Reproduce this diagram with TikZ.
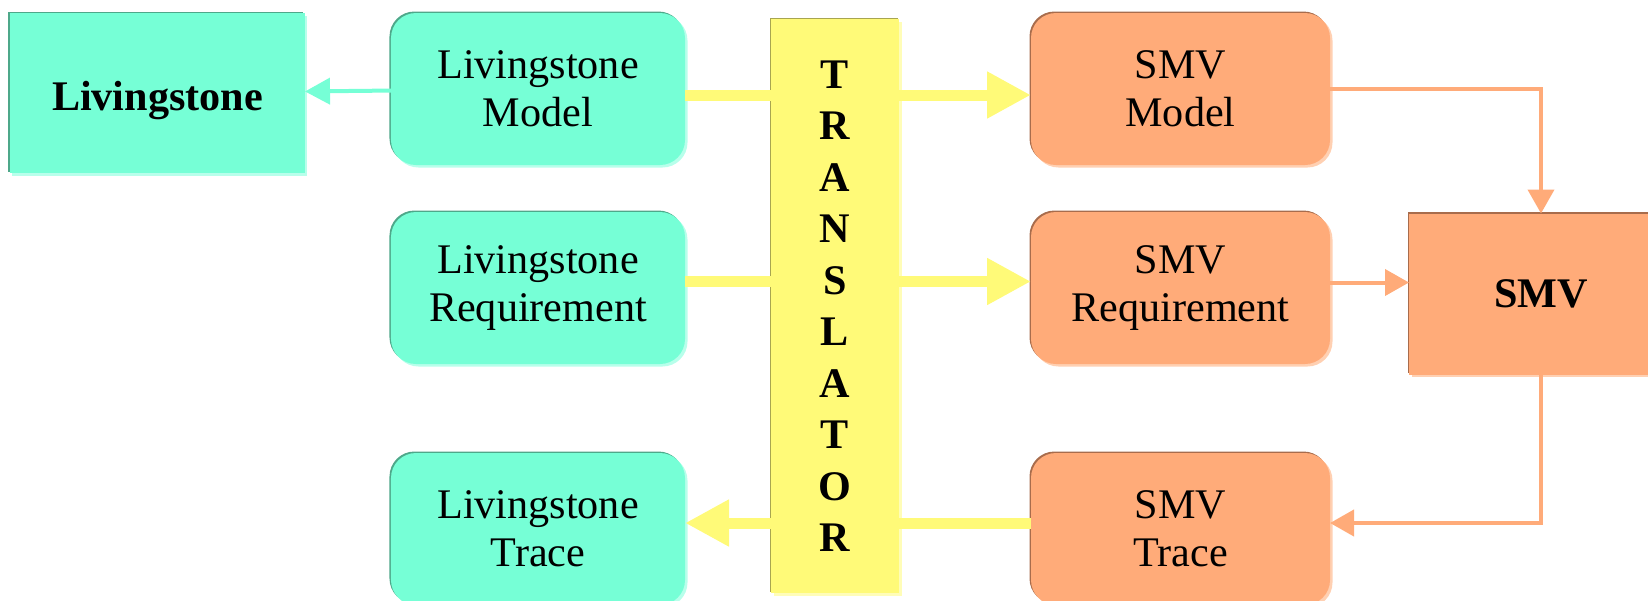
\documentclass[tikz,border=0pt]{standalone}
\usepackage{fontspec}
\setmainfont{Liberation Serif}
\usetikzlibrary{calc}
\usetikzlibrary{positioning}
\usetikzlibrary{arrows.meta}
\usetikzlibrary{shadows}

\definecolor{livfill}{HTML}{76FFD6}
\definecolor{livdark}{HTML}{4EA88A}
\definecolor{livlight}{HTML}{B8FFEB}
\definecolor{smvfill}{HTML}{FFAB79}
\definecolor{smvdark}{HTML}{A86C4C}
\definecolor{smvlight}{HTML}{FFD0B2}
\definecolor{trfill}{HTML}{FFFA78}
\definecolor{trdark}{HTML}{A8A550}
\definecolor{trlight}{HTML}{FFFDB8}

\begin{document}
\begin{tikzpicture}
[
% 文字の設定
every node/.style={inner sep=0, outer sep=0, align=center,
font=\fontsize{24}{27.3}\selectfont},
% 影（左上は濃く、右下は薄く）
bevel/.style 2 args={general shadow={fill=#1, shadow xshift=-0.03cm, shadow yshift=0.03cm},
general shadow={fill=#2, shadow xshift=0.05cm, shadow yshift=-0.05cm}},
% Livingstone 側のブロック
livblock/.style={rectangle, rounded corners=0.5cm, fill=livfill, bevel={livdark}{livlight},
minimum width=5.88cm, minimum height=3.04cm},
livbig/.style={rectangle, fill=livfill, bevel={livdark}{livlight},
minimum width=5.9cm, minimum height=3.2cm, text height=0.86cm, text depth=0.18cm},
% SMV 側のブロック
smvblock/.style={rectangle, rounded corners=0.5cm, fill=smvfill, bevel={smvdark}{smvlight},
minimum width=5.98cm, minimum height=3.04cm},
smvbig/.style={rectangle, fill=smvfill, bevel={smvdark}{smvlight},
minimum width=5.28cm, minimum height=3.22cm},
% 変換器
bar/.style={rectangle, fill=trfill, bevel={trdark}{trlight},
minimum width=2.56cm, minimum height=11.48cm, font=\fontsize{24}{29.3}\selectfont\bfseries},
% 矢印の設定
livarrow/.style={-{Triangle[length=0.5cm, width=0.52cm]}, line width=0.08cm, livfill},
smvarrow/.style={-{Triangle[length=0.48cm, width=0.52cm]}, line width=0.08cm, smvfill},
trline/.style={line width=0.22cm, trfill},
trarrow/.style={trline, -{Triangle[length=0.88cm, width=0.88cm]}}
]
\useasboundingbox (-10.76,1.78) rectangle (22.2,-10.22);

% ブロックの配置
\node [livblock] (lmodel) {Livingstone\\Model};
\node [livblock, below=0.94 of lmodel] (lreq) {Livingstone\\Requirement};
\node [livblock, below=1.78 of lreq] (ltrace) {Livingstone\\Trace};
\node [livbig, left=1.72 of lmodel, yshift=-0.08cm] (liv) {\bfseries Livingstone};
\node [bar, anchor=north west] at ($(lmodel.north east)+(1.72,-0.12)$) (trans)
{T\\R\\A\\N\\S\\L\\A\\T\\O\\R};
\coordinate (r1) at (trans.east |- lmodel);
\node [smvblock, right=2.64 of r1] (smodel) {SMV\\Model};
\node [smvblock, below=0.94 of smodel] (sreq) {SMV\\Requirement};
\node [smvblock, below=1.78 of sreq] (strace) {SMV\\Trace};
\node [smvbig, right=1.58 of sreq, yshift=-0.12cm] (smv) {\bfseries SMV};

% 矢印の高さ
\coordinate (y1) at ([yshift=-0.12cm]lmodel.east);
\coordinate (y2) at ([yshift=0.13cm]lreq.east);
\coordinate (y3) at ([yshift=0.12cm]ltrace.east);
\coordinate (o2) at ([yshift=0.11cm]sreq.east);
\coordinate (o3) at ([yshift=0.12cm]strace.east);

% ブロックの接続
\draw [livarrow] (lmodel) -- (liv);
\draw [trline] (y1) -- (y1 -| trans.west);
\draw [trarrow] (y1 -| trans.east) -- (y1 -| smodel.west);
\draw [trline] (y2) -- (y2 -| trans.west);
\draw [trarrow] (y2 -| trans.east) -- (y2 -| sreq.west);
\draw [trline] (y3 -| strace.west) -- (y3 -| trans.east);
\draw [trarrow] (y3 -| trans.west) -- (y3);
\draw [smvarrow] (smodel.east) -| (smv.north);
\draw [smvarrow] (o2) -- (o2 -| smv.west);
\draw [smvarrow] (smv.south) |- (o3);
\end{tikzpicture}
\end{document}
